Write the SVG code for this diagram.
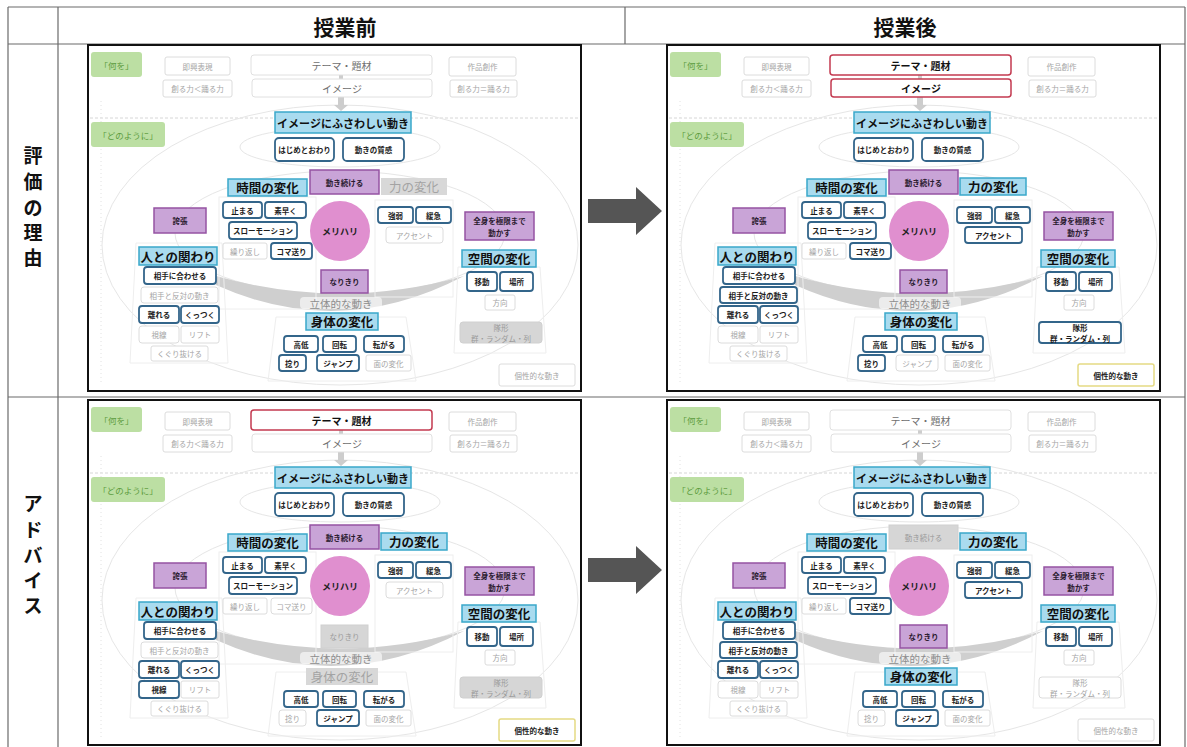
<svg xmlns="http://www.w3.org/2000/svg" width="1187" height="747" viewBox="0 0 1187 747">
<style>
text{font-family:"Noto Sans CJK JP","Noto Sans",sans-serif}
.n text{text-anchor:middle;dominant-baseline:central}
.tbl{stroke:#6a6a6a;stroke-width:1.2;fill:none}
.hd{font-size:21px;font-weight:700;fill:#111;text-anchor:middle;dominant-baseline:central}
.side{font-size:19px;font-weight:700;fill:#111;text-anchor:middle;dominant-baseline:central}
.pb{fill:#fff;stroke:#111;stroke-width:2}
.fa{fill:none;stroke:#e6e6e6;stroke-width:1}
.fb{fill:none;stroke:#eeeeee;stroke-width:1}
.b rect{fill:#fff;stroke:#33658a;stroke-width:1.8}
.b text{font-size:7.5px;font-weight:700;fill:#1c1c1c}
.g rect{fill:#fff;stroke:#dcdcdc;stroke-width:1}
.g text{font-size:7.5px;fill:#a5a5a5}
.gf rect{fill:#d6d6d6;stroke:#d0d0d0;stroke-width:1}
.gf text{font-size:7.5px;fill:#9a9a9a}
.p rect{fill:#c9a4d7;stroke:#9553a3;stroke-width:1.5}
.p text{font-size:7.5px;font-weight:700;fill:#2a1a2e}
.h rect{fill:#a9dbef;stroke:#3aa8ca;stroke-width:1.5}
.h text{font-size:12.5px;font-weight:700;fill:#111}
.hg rect{fill:#d8d8d8;stroke:none}
.hg text{font-size:12.5px;fill:#a3a3a3}
.r rect{fill:#fff;stroke:#c33a50;stroke-width:1.5}
.r text{font-size:10px;font-weight:700;fill:#111}
.tg rect{fill:#fff;stroke:#e0e0e0;stroke-width:1}
.tg text{font-size:10px;fill:#6e6e6e}
.y rect{fill:#fff;stroke:#e5da84;stroke-width:1.5}
.y text{font-size:7.5px;font-weight:700;fill:#222}
.gr rect{fill:#bcdfa3;stroke:none}
.gr text{font-size:8.5px;fill:#5c9c40}
.mh circle{fill:#e08fcf}
.mh text{font-size:9px;font-weight:700;fill:#222}
.sm text{font-size:11px}
.rt{font-size:10.5px;fill:#8c8c8c;text-anchor:middle;dominant-baseline:central}
.arrow{fill:#555}
</style>
<defs>
<g id="bg">
<line x1="2" y1="73" x2="491" y2="73" stroke="#d6d6d6" stroke-dasharray="3 2"/>
<line x1="13" y1="56" x2="13" y2="340" stroke="#e2e2e2" stroke-dasharray="1 3"/>
<ellipse cx="252" cy="200" rx="238" ry="140" class="fa"/>
<ellipse cx="252" cy="188" rx="165" ry="62" class="fa"/>
<ellipse cx="252" cy="102" rx="100" ry="20" class="fa"/>
<path d="M128,231 Q252,266 376,231 Q252,296 128,240 Z" fill="#cfcfcf"/>
<polygon class="fb" points="48,198 134,198 140,318 42,318"/>
<rect class="fb" x="131" y="152" width="97" height="112"/>
<rect class="fb" x="287" y="155" width="78" height="97"/>
<polygon class="fb" points="188,272 318,272 328,336 180,336"/>
<polygon class="fb" points="370,222 452,222 458,308 366,308"/>
<rect x="212" y="252" width="82" height="12" rx="4" fill="#fff" opacity=".6"/>
<path d="M251,30h4v4h-4z M250,52h6v8h4l-7,6l-7,-6h4z" fill="#cdcdcd"/>
</g>
</defs>

<g id="table">
<line x1="8" y1="7" x2="1185" y2="7" class="tbl"/>
<line x1="8" y1="7" x2="8" y2="747" class="tbl"/>
<line x1="1185" y1="7" x2="1185" y2="747" class="tbl"/>
<line x1="58" y1="7" x2="58" y2="747" class="tbl"/>
<line x1="8" y1="44" x2="1185" y2="44" class="tbl"/>
<line x1="8" y1="397" x2="1185" y2="397" class="tbl"/>
<line x1="625" y1="7" x2="625" y2="44" class="tbl"/>
<text class="hd" x="345" y="26">授業前</text>
<text class="hd" x="905" y="26">授業後</text>
<text class="side"><tspan x="33" y="154">評</tspan><tspan x="33" y="180">価</tspan><tspan x="33" y="206">の</tspan><tspan x="33" y="231">理</tspan><tspan x="33" y="256">由</tspan></text>
<text class="side"><tspan x="33" y="502">ア</tspan><tspan x="33" y="528">ド</tspan><tspan x="33" y="554">バ</tspan><tspan x="33" y="579">イ</tspan><tspan x="33" y="604">ス</tspan></text>
</g>

<g id="connectors">
<polygon class="arrow" points="588,199 636,199 636,187 662,211 636,235 636,223 588,223"/>
<polygon class="arrow" points="588,558 636,558 636,546 662,570 636,594 636,582 588,582"/>
</g>

<!-- TOP LEFT -->
<g id="panel-tl" transform="translate(88,45)">
<rect class="pb" x="0" y="0" width="493" height="346"/>
<use href="#bg"/>
<g id="tl-nani" class="n gr"><rect x="3" y="7" width="51" height="25" rx="3"/><text x="28.5" y="19.5">「何を」</text></g>
<g id="tl-sokkyo" class="n g"><rect x="77" y="12" width="65" height="18" rx="2"/><text x="109.5" y="21">即興表現</text></g>
<g id="tl-tsukuru1" class="n g"><rect x="75" y="35" width="69" height="17" rx="2"/><text x="109.5" y="43.5">創る力＜踊る力</text></g>
<g id="tl-theme" class="n tg"><rect x="163" y="10" width="181" height="20" rx="3"/><text x="253.5" y="20">テーマ・題材</text></g>
<g id="tl-image" class="n tg"><rect x="164" y="34" width="180" height="18" rx="3"/><text x="254" y="43">イメージ</text></g>
<g id="tl-sakuhin" class="n g"><rect x="361" y="12" width="67" height="19" rx="2"/><text x="394.5" y="21.5">作品創作</text></g>
<g id="tl-tsukuru2" class="n g"><rect x="362" y="35" width="67" height="17" rx="2"/><text x="395.5" y="43.5">創る力＝踊る力</text></g>
<g id="tl-donoyouni" class="n gr"><rect x="3" y="77" width="74" height="25" rx="3"/><text x="40" y="89.5">「どのように」</text></g>
<g id="tl-imgmove" class="n h sm"><rect x="187" y="67" width="136" height="21"/><text x="255" y="77.5">イメージにふさわしい動き</text></g>
<g id="tl-hajime" class="n b"><rect x="187" y="93" width="59" height="23" rx="4"/><text x="216.5" y="104.5">はじめとおわり</text></g>
<g id="tl-shitsukan" class="n b"><rect x="255" y="93" width="61" height="23" rx="4"/><text x="285.5" y="104.5">動きの質感</text></g>
<g id="tl-tsuzukeru" class="n p"><rect x="222" y="125" width="69" height="24"/><text x="256.5" y="137">動き続ける</text></g>
<g id="tl-jikan" class="n h"><rect x="140" y="134" width="79" height="17"/><text x="179.5" y="142.5">時間の変化</text></g>
<g id="tl-chikara" class="n hg"><rect x="293" y="133" width="66" height="17"/><text x="326" y="141.5">力の変化</text></g>
<g id="tl-tomaru" class="n b"><rect x="135" y="157" width="39" height="16" rx="3"/><text x="154.5" y="165">止まる</text></g>
<g id="tl-subayaku" class="n b"><rect x="177" y="157" width="41" height="16" rx="3"/><text x="197.5" y="165">素早く</text></g>
<g id="tl-slow" class="n b"><rect x="141" y="177" width="68" height="17" rx="3"/><text x="175" y="185.5">スローモーション</text></g>
<g id="tl-kurikaeshi" class="n g"><rect x="135" y="198" width="44" height="16" rx="2"/><text x="157" y="206">繰り返し</text></g>
<g id="tl-komaokuri" class="n b"><rect x="183" y="198" width="41" height="16" rx="3"/><text x="203.5" y="206">コマ送り</text></g>
<g id="tl-merihari" class="n mh"><circle cx="252" cy="186" r="30"/><text x="252" y="186">メリハリ</text></g>
<g id="tl-kyojaku" class="n b"><rect x="290" y="162" width="35" height="16" rx="3"/><text x="307.5" y="170">強弱</text></g>
<g id="tl-kankyu" class="n b"><rect x="328" y="162" width="35" height="16" rx="3"/><text x="345.5" y="170">緩急</text></g>
<g id="tl-accent" class="n g"><rect x="298" y="182" width="57" height="16" rx="3"/><text x="326.5" y="190">アクセント</text></g>
<g id="tl-kocho" class="n p"><rect x="66" y="163" width="52" height="25"/><text x="92" y="175.5">誇張</text></g>
<g id="tl-zenshin" class="n p"><rect x="377" y="167" width="69" height="28"/><text x="411.5" y="175.5">全身を極限まで</text><text x="411.5" y="187">動かす</text></g>
<g id="tl-hito" class="n h"><rect x="51" y="202" width="78" height="18"/><text x="90" y="211">人との関わり</text></g>
<g id="tl-aiteni" class="n b"><rect x="56" y="222" width="72" height="17" rx="3"/><text x="92" y="230.5">相手に合わせる</text></g>
<g id="tl-hantai" class="n g"><rect x="53" y="242" width="77" height="16" rx="3"/><text x="91.5" y="250">相手と反対の動き</text></g>
<g id="tl-hanareru" class="n b"><rect x="51" y="261" width="40" height="17" rx="3"/><text x="71" y="269.5">離れる</text></g>
<g id="tl-kuttsuku" class="n b"><rect x="93" y="261" width="38" height="17" rx="3"/><text x="112" y="269.5">くっつく</text></g>
<g id="tl-shisen" class="n g"><rect x="51" y="281" width="40" height="17" rx="3"/><text x="71" y="289.5">視線</text></g>
<g id="tl-lift" class="n g"><rect x="93" y="281" width="38" height="17" rx="2"/><text x="112" y="289.5">リフト</text></g>
<g id="tl-kuguri" class="n g"><rect x="63" y="301" width="57" height="15" rx="2"/><text x="91.5" y="308.5">くぐり抜ける</text></g>
<g id="tl-narikiri" class="n p"><rect x="233" y="225" width="47" height="23"/><text x="256.5" y="236.5">なりきり</text></g>
<text id="tl-rittai" class="rt" x="253" y="258">立体的な動き</text>
<g id="tl-shintai" class="n h"><rect x="218" y="268" width="72" height="17"/><text x="254" y="276.5">身体の変化</text></g>
<g id="tl-kotei" class="n b"><rect x="196" y="291" width="34" height="16" rx="3"/><text x="213" y="299">高低</text></g>
<g id="tl-kaiten" class="n b"><rect x="235" y="291" width="33" height="16" rx="3"/><text x="251.5" y="299">回転</text></g>
<g id="tl-korogaru" class="n b"><rect x="276" y="291" width="40" height="16" rx="3"/><text x="296" y="299">転がる</text></g>
<g id="tl-hineri" class="n b"><rect x="191" y="310" width="27" height="16" rx="3"/><text x="204.5" y="318">捻り</text></g>
<g id="tl-jump" class="n b"><rect x="229" y="310" width="42" height="16" rx="3"/><text x="250" y="318">ジャンプ</text></g>
<g id="tl-men" class="n g"><rect x="278" y="310" width="45" height="16" rx="2"/><text x="300.5" y="318">面の変化</text></g>
<g id="tl-kukan" class="n h"><rect x="374" y="205" width="74" height="17"/><text x="411" y="213.5">空間の変化</text></g>
<g id="tl-ido" class="n b"><rect x="379" y="227" width="30" height="19" rx="3"/><text x="394" y="236.5">移動</text></g>
<g id="tl-basho" class="n b"><rect x="412" y="227" width="33" height="19" rx="3"/><text x="428.5" y="236.5">場所</text></g>
<g id="tl-houkou" class="n g"><rect x="397" y="250" width="30" height="15" rx="2"/><text x="412" y="257.5">方向</text></g>
<g id="tl-taikei" class="n gf"><rect x="372" y="277" width="82" height="21" rx="3"/><text x="413" y="282.5">隊形</text><text x="413" y="293">群・ランダム・列</text></g>
<g id="tl-kosei" class="n g"><rect x="411" y="319" width="76" height="22" rx="2"/><text x="449" y="330">個性的な動き</text></g>
</g>

<!-- TOP RIGHT -->
<g id="panel-tr" transform="translate(667,45)">
<rect class="pb" x="0" y="0" width="493" height="346"/>
<use href="#bg"/>
<g id="tr-nani" class="n gr"><rect x="3" y="7" width="51" height="25" rx="3"/><text x="28.5" y="19.5">「何を」</text></g>
<g id="tr-sokkyo" class="n g"><rect x="77" y="12" width="65" height="18" rx="2"/><text x="109.5" y="21">即興表現</text></g>
<g id="tr-tsukuru1" class="n g"><rect x="75" y="35" width="69" height="17" rx="2"/><text x="109.5" y="43.5">創る力＜踊る力</text></g>
<g id="tr-theme" class="n r"><rect x="163" y="10" width="181" height="20" rx="3"/><text x="253.5" y="20">テーマ・題材</text></g>
<g id="tr-image" class="n r"><rect x="164" y="34" width="180" height="18" rx="3"/><text x="254" y="43">イメージ</text></g>
<g id="tr-sakuhin" class="n g"><rect x="361" y="12" width="67" height="19" rx="2"/><text x="394.5" y="21.5">作品創作</text></g>
<g id="tr-tsukuru2" class="n g"><rect x="362" y="35" width="67" height="17" rx="2"/><text x="395.5" y="43.5">創る力＝踊る力</text></g>
<g id="tr-donoyouni" class="n gr"><rect x="3" y="77" width="74" height="25" rx="3"/><text x="40" y="89.5">「どのように」</text></g>
<g id="tr-imgmove" class="n h sm"><rect x="187" y="67" width="136" height="21"/><text x="255" y="77.5">イメージにふさわしい動き</text></g>
<g id="tr-hajime" class="n b"><rect x="187" y="93" width="59" height="23" rx="4"/><text x="216.5" y="104.5">はじめとおわり</text></g>
<g id="tr-shitsukan" class="n b"><rect x="255" y="93" width="61" height="23" rx="4"/><text x="285.5" y="104.5">動きの質感</text></g>
<g id="tr-tsuzukeru" class="n p"><rect x="222" y="125" width="69" height="24"/><text x="256.5" y="137">動き続ける</text></g>
<g id="tr-jikan" class="n h"><rect x="140" y="134" width="79" height="17"/><text x="179.5" y="142.5">時間の変化</text></g>
<g id="tr-chikara" class="n h"><rect x="293" y="133" width="66" height="17"/><text x="326" y="141.5">力の変化</text></g>
<g id="tr-tomaru" class="n b"><rect x="135" y="157" width="39" height="16" rx="3"/><text x="154.5" y="165">止まる</text></g>
<g id="tr-subayaku" class="n b"><rect x="177" y="157" width="41" height="16" rx="3"/><text x="197.5" y="165">素早く</text></g>
<g id="tr-slow" class="n b"><rect x="141" y="177" width="68" height="17" rx="3"/><text x="175" y="185.5">スローモーション</text></g>
<g id="tr-kurikaeshi" class="n g"><rect x="135" y="198" width="44" height="16" rx="2"/><text x="157" y="206">繰り返し</text></g>
<g id="tr-komaokuri" class="n b"><rect x="183" y="198" width="41" height="16" rx="3"/><text x="203.5" y="206">コマ送り</text></g>
<g id="tr-merihari" class="n mh"><circle cx="252" cy="186" r="30"/><text x="252" y="186">メリハリ</text></g>
<g id="tr-kyojaku" class="n b"><rect x="290" y="162" width="35" height="16" rx="3"/><text x="307.5" y="170">強弱</text></g>
<g id="tr-kankyu" class="n b"><rect x="328" y="162" width="35" height="16" rx="3"/><text x="345.5" y="170">緩急</text></g>
<g id="tr-accent" class="n b"><rect x="298" y="182" width="57" height="16" rx="3"/><text x="326.5" y="190">アクセント</text></g>
<g id="tr-kocho" class="n p"><rect x="66" y="163" width="52" height="25"/><text x="92" y="175.5">誇張</text></g>
<g id="tr-zenshin" class="n p"><rect x="377" y="167" width="69" height="28"/><text x="411.5" y="175.5">全身を極限まで</text><text x="411.5" y="187">動かす</text></g>
<g id="tr-hito" class="n h"><rect x="51" y="202" width="78" height="18"/><text x="90" y="211">人との関わり</text></g>
<g id="tr-aiteni" class="n b"><rect x="56" y="222" width="72" height="17" rx="3"/><text x="92" y="230.5">相手に合わせる</text></g>
<g id="tr-hantai" class="n b"><rect x="53" y="242" width="77" height="16" rx="3"/><text x="91.5" y="250">相手と反対の動き</text></g>
<g id="tr-hanareru" class="n b"><rect x="51" y="261" width="40" height="17" rx="3"/><text x="71" y="269.5">離れる</text></g>
<g id="tr-kuttsuku" class="n b"><rect x="93" y="261" width="38" height="17" rx="3"/><text x="112" y="269.5">くっつく</text></g>
<g id="tr-shisen" class="n g"><rect x="51" y="281" width="40" height="17" rx="3"/><text x="71" y="289.5">視線</text></g>
<g id="tr-lift" class="n g"><rect x="93" y="281" width="38" height="17" rx="2"/><text x="112" y="289.5">リフト</text></g>
<g id="tr-kuguri" class="n g"><rect x="63" y="301" width="57" height="15" rx="2"/><text x="91.5" y="308.5">くぐり抜ける</text></g>
<g id="tr-narikiri" class="n p"><rect x="233" y="225" width="47" height="23"/><text x="256.5" y="236.5">なりきり</text></g>
<text id="tr-rittai" class="rt" x="253" y="258">立体的な動き</text>
<g id="tr-shintai" class="n h"><rect x="218" y="268" width="72" height="17"/><text x="254" y="276.5">身体の変化</text></g>
<g id="tr-kotei" class="n b"><rect x="196" y="291" width="34" height="16" rx="3"/><text x="213" y="299">高低</text></g>
<g id="tr-kaiten" class="n b"><rect x="235" y="291" width="33" height="16" rx="3"/><text x="251.5" y="299">回転</text></g>
<g id="tr-korogaru" class="n b"><rect x="276" y="291" width="40" height="16" rx="3"/><text x="296" y="299">転がる</text></g>
<g id="tr-hineri" class="n b"><rect x="191" y="310" width="27" height="16" rx="3"/><text x="204.5" y="318">捻り</text></g>
<g id="tr-jump" class="n g"><rect x="229" y="310" width="42" height="16" rx="3"/><text x="250" y="318">ジャンプ</text></g>
<g id="tr-men" class="n g"><rect x="278" y="310" width="45" height="16" rx="2"/><text x="300.5" y="318">面の変化</text></g>
<g id="tr-kukan" class="n h"><rect x="374" y="205" width="74" height="17"/><text x="411" y="213.5">空間の変化</text></g>
<g id="tr-ido" class="n b"><rect x="379" y="227" width="30" height="19" rx="3"/><text x="394" y="236.5">移動</text></g>
<g id="tr-basho" class="n b"><rect x="412" y="227" width="33" height="19" rx="3"/><text x="428.5" y="236.5">場所</text></g>
<g id="tr-houkou" class="n g"><rect x="397" y="250" width="30" height="15" rx="2"/><text x="412" y="257.5">方向</text></g>
<g id="tr-taikei" class="n b"><rect x="372" y="277" width="82" height="21" rx="3"/><text x="413" y="282.5">隊形</text><text x="413" y="293">群・ランダム・列</text></g>
<g id="tr-kosei" class="n y"><rect x="411" y="319" width="76" height="22" rx="2"/><text x="449" y="330">個性的な動き</text></g>
</g>

<!-- BOTTOM LEFT -->
<g id="panel-bl" transform="translate(88,400)">
<rect class="pb" x="0" y="0" width="493" height="345"/>
<use href="#bg"/>
<g id="bl-nani" class="n gr"><rect x="3" y="7" width="51" height="25" rx="3"/><text x="28.5" y="19.5">「何を」</text></g>
<g id="bl-sokkyo" class="n g"><rect x="77" y="12" width="65" height="18" rx="2"/><text x="109.5" y="21">即興表現</text></g>
<g id="bl-tsukuru1" class="n g"><rect x="75" y="35" width="69" height="17" rx="2"/><text x="109.5" y="43.5">創る力＜踊る力</text></g>
<g id="bl-theme" class="n r"><rect x="163" y="10" width="181" height="20" rx="3"/><text x="253.5" y="20">テーマ・題材</text></g>
<g id="bl-image" class="n tg"><rect x="164" y="34" width="180" height="18" rx="3"/><text x="254" y="43">イメージ</text></g>
<g id="bl-sakuhin" class="n g"><rect x="361" y="12" width="67" height="19" rx="2"/><text x="394.5" y="21.5">作品創作</text></g>
<g id="bl-tsukuru2" class="n g"><rect x="362" y="35" width="67" height="17" rx="2"/><text x="395.5" y="43.5">創る力＝踊る力</text></g>
<g id="bl-donoyouni" class="n gr"><rect x="3" y="77" width="74" height="25" rx="3"/><text x="40" y="89.5">「どのように」</text></g>
<g id="bl-imgmove" class="n h sm"><rect x="187" y="67" width="136" height="21"/><text x="255" y="77.5">イメージにふさわしい動き</text></g>
<g id="bl-hajime" class="n b"><rect x="187" y="93" width="59" height="23" rx="4"/><text x="216.5" y="104.5">はじめとおわり</text></g>
<g id="bl-shitsukan" class="n b"><rect x="255" y="93" width="61" height="23" rx="4"/><text x="285.5" y="104.5">動きの質感</text></g>
<g id="bl-tsuzukeru" class="n p"><rect x="222" y="125" width="69" height="24"/><text x="256.5" y="137">動き続ける</text></g>
<g id="bl-jikan" class="n h"><rect x="140" y="134" width="79" height="17"/><text x="179.5" y="142.5">時間の変化</text></g>
<g id="bl-chikara" class="n h"><rect x="293" y="133" width="66" height="17"/><text x="326" y="141.5">力の変化</text></g>
<g id="bl-tomaru" class="n b"><rect x="135" y="157" width="39" height="16" rx="3"/><text x="154.5" y="165">止まる</text></g>
<g id="bl-subayaku" class="n b"><rect x="177" y="157" width="41" height="16" rx="3"/><text x="197.5" y="165">素早く</text></g>
<g id="bl-slow" class="n b"><rect x="141" y="177" width="68" height="17" rx="3"/><text x="175" y="185.5">スローモーション</text></g>
<g id="bl-kurikaeshi" class="n g"><rect x="135" y="198" width="44" height="16" rx="2"/><text x="157" y="206">繰り返し</text></g>
<g id="bl-komaokuri" class="n g"><rect x="183" y="198" width="41" height="16" rx="3"/><text x="203.5" y="206">コマ送り</text></g>
<g id="bl-merihari" class="n mh"><circle cx="252" cy="186" r="30"/><text x="252" y="186">メリハリ</text></g>
<g id="bl-kyojaku" class="n b"><rect x="290" y="162" width="35" height="16" rx="3"/><text x="307.5" y="170">強弱</text></g>
<g id="bl-kankyu" class="n b"><rect x="328" y="162" width="35" height="16" rx="3"/><text x="345.5" y="170">緩急</text></g>
<g id="bl-accent" class="n g"><rect x="298" y="182" width="57" height="16" rx="3"/><text x="326.5" y="190">アクセント</text></g>
<g id="bl-kocho" class="n p"><rect x="66" y="163" width="52" height="25"/><text x="92" y="175.5">誇張</text></g>
<g id="bl-zenshin" class="n p"><rect x="377" y="167" width="69" height="28"/><text x="411.5" y="175.5">全身を極限まで</text><text x="411.5" y="187">動かす</text></g>
<g id="bl-hito" class="n h"><rect x="51" y="202" width="78" height="18"/><text x="90" y="211">人との関わり</text></g>
<g id="bl-aiteni" class="n b"><rect x="56" y="222" width="72" height="17" rx="3"/><text x="92" y="230.5">相手に合わせる</text></g>
<g id="bl-hantai" class="n g"><rect x="53" y="242" width="77" height="16" rx="3"/><text x="91.5" y="250">相手と反対の動き</text></g>
<g id="bl-hanareru" class="n b"><rect x="51" y="261" width="40" height="17" rx="3"/><text x="71" y="269.5">離れる</text></g>
<g id="bl-kuttsuku" class="n b"><rect x="93" y="261" width="38" height="17" rx="3"/><text x="112" y="269.5">くっつく</text></g>
<g id="bl-shisen" class="n b"><rect x="51" y="281" width="40" height="17" rx="3"/><text x="71" y="289.5">視線</text></g>
<g id="bl-lift" class="n g"><rect x="93" y="281" width="38" height="17" rx="2"/><text x="112" y="289.5">リフト</text></g>
<g id="bl-kuguri" class="n g"><rect x="63" y="301" width="57" height="15" rx="2"/><text x="91.5" y="308.5">くぐり抜ける</text></g>
<g id="bl-narikiri" class="n gf"><rect x="233" y="225" width="47" height="23"/><text x="256.5" y="236.5">なりきり</text></g>
<text id="bl-rittai" class="rt" x="253" y="258">立体的な動き</text>
<g id="bl-shintai" class="n hg"><rect x="218" y="268" width="72" height="17"/><text x="254" y="276.5">身体の変化</text></g>
<g id="bl-kotei" class="n b"><rect x="196" y="291" width="34" height="16" rx="3"/><text x="213" y="299">高低</text></g>
<g id="bl-kaiten" class="n b"><rect x="235" y="291" width="33" height="16" rx="3"/><text x="251.5" y="299">回転</text></g>
<g id="bl-korogaru" class="n b"><rect x="276" y="291" width="40" height="16" rx="3"/><text x="296" y="299">転がる</text></g>
<g id="bl-hineri" class="n g"><rect x="191" y="310" width="27" height="16" rx="3"/><text x="204.5" y="318">捻り</text></g>
<g id="bl-jump" class="n b"><rect x="229" y="310" width="42" height="16" rx="3"/><text x="250" y="318">ジャンプ</text></g>
<g id="bl-men" class="n g"><rect x="278" y="310" width="45" height="16" rx="2"/><text x="300.5" y="318">面の変化</text></g>
<g id="bl-kukan" class="n h"><rect x="374" y="205" width="74" height="17"/><text x="411" y="213.5">空間の変化</text></g>
<g id="bl-ido" class="n b"><rect x="379" y="227" width="30" height="19" rx="3"/><text x="394" y="236.5">移動</text></g>
<g id="bl-basho" class="n b"><rect x="412" y="227" width="33" height="19" rx="3"/><text x="428.5" y="236.5">場所</text></g>
<g id="bl-houkou" class="n g"><rect x="397" y="250" width="30" height="15" rx="2"/><text x="412" y="257.5">方向</text></g>
<g id="bl-taikei" class="n gf"><rect x="372" y="277" width="82" height="21" rx="3"/><text x="413" y="282.5">隊形</text><text x="413" y="293">群・ランダム・列</text></g>
<g id="bl-kosei" class="n y"><rect x="411" y="319" width="76" height="22" rx="2"/><text x="449" y="330">個性的な動き</text></g>
</g>

<!-- BOTTOM RIGHT -->
<g id="panel-br" transform="translate(667,400)">
<rect class="pb" x="0" y="0" width="493" height="345"/>
<use href="#bg"/>
<g id="br-nani" class="n gr"><rect x="3" y="7" width="51" height="25" rx="3"/><text x="28.5" y="19.5">「何を」</text></g>
<g id="br-sokkyo" class="n g"><rect x="77" y="12" width="65" height="18" rx="2"/><text x="109.5" y="21">即興表現</text></g>
<g id="br-tsukuru1" class="n g"><rect x="75" y="35" width="69" height="17" rx="2"/><text x="109.5" y="43.5">創る力＜踊る力</text></g>
<g id="br-theme" class="n tg"><rect x="163" y="10" width="181" height="20" rx="3"/><text x="253.5" y="20">テーマ・題材</text></g>
<g id="br-image" class="n tg"><rect x="164" y="34" width="180" height="18" rx="3"/><text x="254" y="43">イメージ</text></g>
<g id="br-sakuhin" class="n g"><rect x="361" y="12" width="67" height="19" rx="2"/><text x="394.5" y="21.5">作品創作</text></g>
<g id="br-tsukuru2" class="n g"><rect x="362" y="35" width="67" height="17" rx="2"/><text x="395.5" y="43.5">創る力＝踊る力</text></g>
<g id="br-donoyouni" class="n gr"><rect x="3" y="77" width="74" height="25" rx="3"/><text x="40" y="89.5">「どのように」</text></g>
<g id="br-imgmove" class="n h sm"><rect x="187" y="67" width="136" height="21"/><text x="255" y="77.5">イメージにふさわしい動き</text></g>
<g id="br-hajime" class="n b"><rect x="187" y="93" width="59" height="23" rx="4"/><text x="216.5" y="104.5">はじめとおわり</text></g>
<g id="br-shitsukan" class="n b"><rect x="255" y="93" width="61" height="23" rx="4"/><text x="285.5" y="104.5">動きの質感</text></g>
<g id="br-tsuzukeru" class="n gf"><rect x="222" y="125" width="69" height="24"/><text x="256.5" y="137">動き続ける</text></g>
<g id="br-jikan" class="n h"><rect x="140" y="134" width="79" height="17"/><text x="179.5" y="142.5">時間の変化</text></g>
<g id="br-chikara" class="n h"><rect x="293" y="133" width="66" height="17"/><text x="326" y="141.5">力の変化</text></g>
<g id="br-tomaru" class="n b"><rect x="135" y="157" width="39" height="16" rx="3"/><text x="154.5" y="165">止まる</text></g>
<g id="br-subayaku" class="n b"><rect x="177" y="157" width="41" height="16" rx="3"/><text x="197.5" y="165">素早く</text></g>
<g id="br-slow" class="n b"><rect x="141" y="177" width="68" height="17" rx="3"/><text x="175" y="185.5">スローモーション</text></g>
<g id="br-kurikaeshi" class="n g"><rect x="135" y="198" width="44" height="16" rx="2"/><text x="157" y="206">繰り返し</text></g>
<g id="br-komaokuri" class="n b"><rect x="183" y="198" width="41" height="16" rx="3"/><text x="203.5" y="206">コマ送り</text></g>
<g id="br-merihari" class="n mh"><circle cx="252" cy="186" r="30"/><text x="252" y="186">メリハリ</text></g>
<g id="br-kyojaku" class="n b"><rect x="290" y="162" width="35" height="16" rx="3"/><text x="307.5" y="170">強弱</text></g>
<g id="br-kankyu" class="n b"><rect x="328" y="162" width="35" height="16" rx="3"/><text x="345.5" y="170">緩急</text></g>
<g id="br-accent" class="n b"><rect x="298" y="182" width="57" height="16" rx="3"/><text x="326.5" y="190">アクセント</text></g>
<g id="br-kocho" class="n p"><rect x="66" y="163" width="52" height="25"/><text x="92" y="175.5">誇張</text></g>
<g id="br-zenshin" class="n p"><rect x="377" y="167" width="69" height="28"/><text x="411.5" y="175.5">全身を極限まで</text><text x="411.5" y="187">動かす</text></g>
<g id="br-hito" class="n h"><rect x="51" y="202" width="78" height="18"/><text x="90" y="211">人との関わり</text></g>
<g id="br-aiteni" class="n b"><rect x="56" y="222" width="72" height="17" rx="3"/><text x="92" y="230.5">相手に合わせる</text></g>
<g id="br-hantai" class="n b"><rect x="53" y="242" width="77" height="16" rx="3"/><text x="91.5" y="250">相手と反対の動き</text></g>
<g id="br-hanareru" class="n b"><rect x="51" y="261" width="40" height="17" rx="3"/><text x="71" y="269.5">離れる</text></g>
<g id="br-kuttsuku" class="n b"><rect x="93" y="261" width="38" height="17" rx="3"/><text x="112" y="269.5">くっつく</text></g>
<g id="br-shisen" class="n g"><rect x="51" y="281" width="40" height="17" rx="3"/><text x="71" y="289.5">視線</text></g>
<g id="br-lift" class="n g"><rect x="93" y="281" width="38" height="17" rx="2"/><text x="112" y="289.5">リフト</text></g>
<g id="br-kuguri" class="n g"><rect x="63" y="301" width="57" height="15" rx="2"/><text x="91.5" y="308.5">くぐり抜ける</text></g>
<g id="br-narikiri" class="n p"><rect x="233" y="225" width="47" height="23"/><text x="256.5" y="236.5">なりきり</text></g>
<text id="br-rittai" class="rt" x="253" y="258">立体的な動き</text>
<g id="br-shintai" class="n h"><rect x="218" y="268" width="72" height="17"/><text x="254" y="276.5">身体の変化</text></g>
<g id="br-kotei" class="n b"><rect x="196" y="291" width="34" height="16" rx="3"/><text x="213" y="299">高低</text></g>
<g id="br-kaiten" class="n b"><rect x="235" y="291" width="33" height="16" rx="3"/><text x="251.5" y="299">回転</text></g>
<g id="br-korogaru" class="n b"><rect x="276" y="291" width="40" height="16" rx="3"/><text x="296" y="299">転がる</text></g>
<g id="br-hineri" class="n g"><rect x="191" y="310" width="27" height="16" rx="3"/><text x="204.5" y="318">捻り</text></g>
<g id="br-jump" class="n b"><rect x="229" y="310" width="42" height="16" rx="3"/><text x="250" y="318">ジャンプ</text></g>
<g id="br-men" class="n g"><rect x="278" y="310" width="45" height="16" rx="2"/><text x="300.5" y="318">面の変化</text></g>
<g id="br-kukan" class="n h"><rect x="374" y="205" width="74" height="17"/><text x="411" y="213.5">空間の変化</text></g>
<g id="br-ido" class="n b"><rect x="379" y="227" width="30" height="19" rx="3"/><text x="394" y="236.5">移動</text></g>
<g id="br-basho" class="n b"><rect x="412" y="227" width="33" height="19" rx="3"/><text x="428.5" y="236.5">場所</text></g>
<g id="br-houkou" class="n g"><rect x="397" y="250" width="30" height="15" rx="2"/><text x="412" y="257.5">方向</text></g>
<g id="br-taikei" class="n g"><rect x="372" y="277" width="82" height="21" rx="3"/><text x="413" y="282.5">隊形</text><text x="413" y="293">群・ランダム・列</text></g>
<g id="br-kosei" class="n g"><rect x="411" y="319" width="76" height="22" rx="2"/><text x="449" y="330">個性的な動き</text></g>
</g>
</svg>
